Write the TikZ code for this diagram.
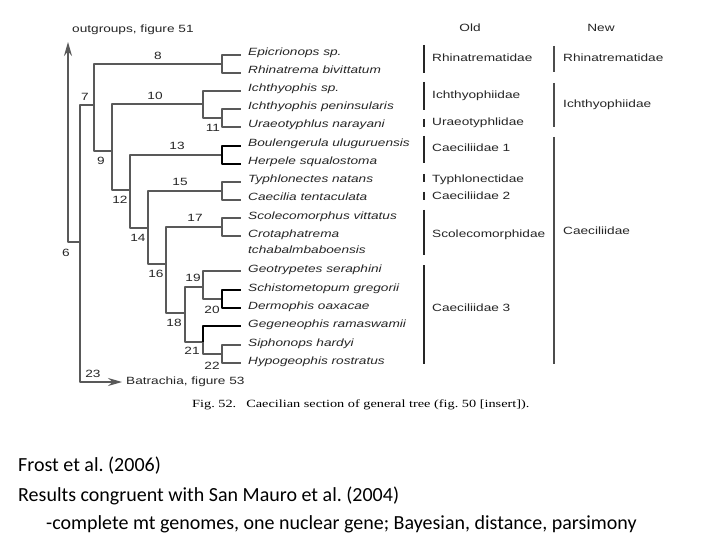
\documentclass[tikz,border=0pt]{standalone}
\usepackage{fontspec}
\usetikzlibrary{arrows.meta,positioning}
\setmainfont{Carlito}
\newfontfamily\figsans[FakeStretch=1.3]{Liberation Sans}
\newfontfamily\figserif[FakeStretch=1.3]{Liberation Serif}
\frenchspacing
\begin{document}
\begin{tikzpicture}[x=1pt,y=-1pt,line join=round,
	branch/.style={draw=black!65,line width=1.3pt},
	tip/.style={-{Stealth[length=14pt,width=8pt]}},
	leaf/.style={anchor=west,inner xsep=7pt,inner ysep=0pt,text height=7pt,text depth=5pt,font=\figsans\itshape\fontsize{10.5}{12}\selectfont,text=black!85},
	lbl/.style={inner sep=0pt,font=\figsans\fontsize{10.5}{12}\selectfont,text=black!85},
	fam/.style={anchor=west,inner sep=0pt,font=\figsans\fontsize{10.5}{12}\selectfont,text=black!85},
	oldbar/.style={line width=2pt,black!85},
	newbar/.style={line width=1.8pt,black!70},
	note/.style={anchor=west,inner sep=0pt,font=\fontsize{20}{24}\selectfont}]
	\useasboundingbox (0,0) rectangle (720,540);
	\fill[white] (0,0) rectangle (720,540);
	\path (68,42) coordinate (ogtip)
		(80,242) coordinate (n6)
		(94,105) coordinate (n7)
		(222,64) coordinate (n8)
		(112,151) coordinate (n9)
		(203,104) coordinate (n10)
		(222,118) coordinate (n11)
		(130,190) coordinate (n12)
		(222,155) coordinate (n13)
		(148,228) coordinate (n14)
		(222,191) coordinate (n15)
		(166,264) coordinate (n16)
		(222,227) coordinate (n17)
		(185,313) coordinate (n18)
		(203,287) coordinate (n19)
		(222,299) coordinate (n20)
		(203,342) coordinate (n21)
		(222,354) coordinate (n22);
	% terminal taxa
	\node[leaf] (s1) at (241,55) {Epicrionops sp.};
	\node[leaf] (s2) at (241,73) {Rhinatrema bivittatum};
	\node[leaf] (s3) at (241,91) {Ichthyophis sp.};
	\node[leaf] (s4) at (241,109) {Ichthyophis peninsularis};
	\node[leaf] (s5) at (241,127) {Uraeotyphlus narayani};
	\node[leaf] (s6) at (241,146) {Boulengerula uluguruensis};
	\node[leaf] (s7) at (241,164) {Herpele squalostoma};
	\node[leaf] (s8) at (241,182) {Typhlonectes natans};
	\node[leaf] (s9) at (241,200) {Caecilia tentaculata};
	\node[leaf] (s10) at (241,218) {Scolecomorphus vittatus};
	\node[leaf] (s11) at (241,236) {Crotaphatrema};
	\node[leaf] (s11b) at (241,252) {tchabalmbaboensis};
	\node[leaf] (s12) at (241,271) {Geotrypetes seraphini};
	\node[leaf] (s13) at (241,290) {Schistometopum gregorii};
	\node[leaf] (s14) at (241,308) {Dermophis oaxacae};
	\node[leaf] (s15) at (241,326) {Gegeneophis ramaswamii};
	\node[leaf] (s16) at (241,345) {Siphonops hardyi};
	\node[leaf] (s17) at (241,363) {Hypogeophis rostratus};
	\node[lbl,anchor=west] (og) at (72,30) {outgroups, figure 51};
	\node[lbl,anchor=west,inner xsep=4pt] (ba) at (122,382) {Batrachia, figure 53};
	% branches
	\draw[branch,tip] (n6) -| (ogtip);
	\draw[branch,tip] (n6) |- (ba.west);
	\draw[branch] (n6) |- (n7);
	\draw[branch] (n7) |- (n8);
	\draw[branch] (n7) |- (n9);
	\draw[branch] (n8) |- (s1.west);
	\draw[branch] (n8) |- (s2.west);
	\draw[branch] (n9) |- (n10);
	\draw[branch] (n9) |- (n12);
	\draw[branch] (n10) |- (s3.west);
	\draw[branch] (n10) |- (n11);
	\draw[branch] (n11) |- (s4.west);
	\draw[branch] (n11) |- (s5.west);
	\draw[branch] (n12) |- (n13);
	\draw[branch] (n12) |- (n14);
	\draw[branch,black] (n13) |- (s6.west);
	\draw[branch,black] (n13) |- (s7.west);
	\draw[branch] (n14) |- (n15);
	\draw[branch] (n14) |- (n16);
	\draw[branch] (n15) |- (s8.west);
	\draw[branch] (n15) |- (s9.west);
	\draw[branch] (n16) |- (n17);
	\draw[branch] (n16) |- (n18);
	\draw[branch] (n17) |- (s10.west);
	\draw[branch] (n17) |- (s11.west);
	\draw[branch] (n18) |- (n19);
	\draw[branch] (n18) |- (n21);
	\draw[branch] (n19) |- (s12.west);
	\draw[branch] (n19) |- (n20);
	\draw[branch,black] (n20) |- (s13.west);
	\draw[branch,black] (n20) |- (s14.west);
	\draw[branch,black] (n21) |- (s15.west);
	\draw[branch] (n21) |- (n22);
	\draw[branch] (n22) |- (s16.west);
	\draw[branch] (n22) |- (s17.west);
	% node numbers
	\node[lbl] (b6) at (66,253) {6};
	\node[lbl] (b7) at (85,97) {7};
	\node[lbl] (b8) at (158,56) {8};
	\node[lbl] (b9) at (101,161) {9};
	\node[lbl] (b10) at (155,96) {10};
	\node[lbl] (b11) at (213,128) {11};
	\node[lbl] (b12) at (120,200) {12};
	\node[lbl] (b13) at (177,146) {13};
	\node[lbl] (b14) at (138,238) {14};
	\node[lbl] (b15) at (180,182) {15};
	\node[lbl] (b16) at (156,274) {16};
	\node[lbl] (b17) at (195,218) {17};
	\node[lbl] (b18) at (174,323) {18};
	\node[lbl] (b19) at (193,278) {19};
	\node[lbl] (b20) at (212,310) {20};
	\node[lbl] (b21) at (192,351) {21};
	\node[lbl] (b22) at (212,366) {22};
	\node[lbl] (b23) at (93,374) {23};
	% old and new families
	\node[lbl] (hold) at (470,28) {Old};
	\node[lbl] (hnew) at (601,28) {New};
	\draw[oldbar] (424,45) -- (424,73);
	\node[fam] (o1) at (432,58) {Rhinatrematidae};
	\draw[oldbar] (424,82) -- (424,110);
	\node[fam] (o2) at (432,96) {Ichthyophiidae};
	\draw[oldbar] (424,119) -- (424,127);
	\node[fam] (o3) at (432,123) {Uraeotyphlidae};
	\draw[oldbar] (424,136) -- (424,163);
	\node[fam] (o4) at (432,148) {Caeciliidae 1};
	\draw[oldbar] (424,174) -- (424,182);
	\node[fam] (o5) at (432,180) {Typhlonectidae};
	\draw[oldbar] (424,192) -- (424,200);
	\node[fam] (o6) at (432,196) {Caeciliidae 2};
	\draw[oldbar] (424,210) -- (424,255);
	\node[fam] (o7) at (432,235) {Scolecomorphidae};
	\draw[oldbar] (424,265) -- (424,364);
	\node[fam] (o8) at (432,308) {Caeciliidae 3};
	\draw[newbar] (554,46) -- (554,72);
	\node[fam] (w1) at (563,58) {Rhinatrematidae};
	\draw[newbar] (554,83) -- (554,127);
	\node[fam] (w2) at (563,105) {Ichthyophiidae};
	\draw[newbar] (554,137) -- (554,364);
	\node[fam] (w3) at (563,231) {Caeciliidae};
	\node[anchor=west,inner sep=0pt,font=\figserif\fontsize{11}{13}\selectfont] (cap) at (192,405) {Fig. 52.\hspace{10pt}Caecilian section of general tree (fig.~50 [insert]).};
	% slide text
	\node[note] (f1) at (18,466) {Frost et al. (2006)};
	\node[note] (f2) at (18,496) {Results congruent with San Mauro et al. (2004)};
	\node[note] (f3) at (46,524) {-complete mt genomes, one nuclear gene; Bayesian, distance, parsimony};
\end{tikzpicture}
\end{document}
